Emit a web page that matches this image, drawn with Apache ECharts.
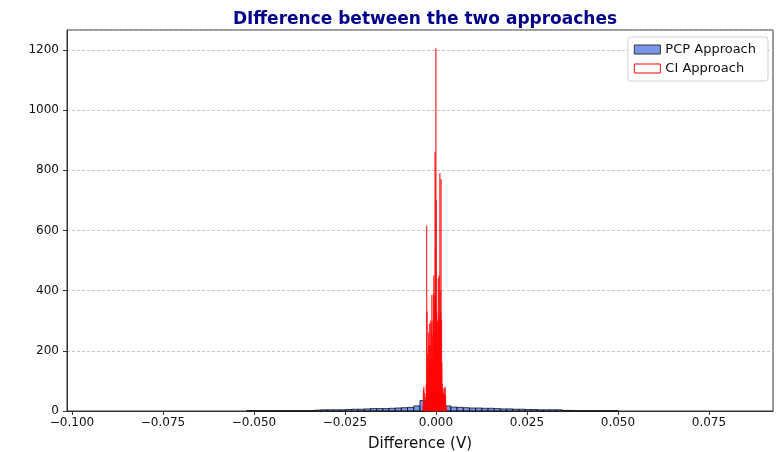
<!DOCTYPE html>
<html>
<head>
    <meta charset="utf-8">
    <title>Difference between the two approaches</title>
    <script src="https://cdn.jsdelivr.net/npm/echarts@6/dist/echarts.min.js"></script>
</head>
<body style="margin:0">
<div id="main" style="width: 782px;height:452px;"></div>
<script type="text/javascript">
    // PCP approach histogram: 60 bins starting at -0.052, width 0.0017
    var pcpStart = -0.052;
    var pcpBinWidth = 0.0017;
    var pcpCounts = [
        1, 1, 1, 1, 1, 1, 1, 1, 1, 1,
        1, 3, 4, 4, 4, 4, 5, 6, 6, 7,
        8, 8, 8, 9, 10, 11, 12, 17, 35, 55,
        60, 55, 17, 13, 12, 11, 10, 10, 9, 9,
        8, 7, 7, 6, 6, 5, 5, 4, 4, 4,
        4, 2, 2, 1, 1, 1, 1, 1, 1, 1
    ];

    // CI approach histogram: 60 narrow bins starting at -0.0036, width 0.00011
    var ciStart = -0.0036;
    var ciBinWidth = 0.00011;
    var ciCounts = [
        15, 70, 80, 60, 20, 10, 25, 45, 90, 615,
        330, 120, 190, 175, 260, 215, 290, 140, 220, 300,
        160, 290, 385, 250, 180, 300, 390, 450, 260, 380,
        860, 540, 1205, 700, 330, 290, 300, 220, 440, 310,
        450, 300, 790, 400, 330, 770, 300, 160, 90, 60,
        75, 60, 30, 45, 75, 80, 50, 20, 10, 5
    ];

    var xTicks = [-0.1, -0.075, -0.05, -0.025, 0, 0.025, 0.05, 0.075];

    function toBins(start, width, counts) {
        return counts.map(function (c, i) {
            return [start + i * width, start + (i + 1) * width, c];
        });
    }

    function barRenderer(style) {
        return function (params, api) {
            var p0 = api.coord([api.value(0), api.value(2)]);
            var p1 = api.coord([api.value(1), 0]);
            return {
                type: 'rect',
                shape: {x: p0[0], y: p0[1], width: p1[0] - p0[0], height: p1[1] - p0[1]},
                style: style
            };
        };
    }

    var pcpStyle = {fill: 'rgba(65,105,225,0.7)', stroke: 'rgba(0,0,0,0.7)', lineWidth: 1};
    var ciStyle = {fill: 'rgba(255,0,0,0.2)', stroke: '#ff0000', lineWidth: 0.6};

    var myChart = echarts.init(document.getElementById('main'));
    myChart.setOption({
        animation: false,
        textStyle: {fontFamily: 'DejaVu Sans'},
        title: {
            text: 'DIfference between the two approaches',
            left: 420,
            textAlign: 'center',
            top: 6,
            textStyle: {fontFamily: 'DejaVu Sans', fontSize: 17, fontWeight: 'bold', color: '#00008b'}
        },
        legend: {
            orient: 'vertical',
            right: 14,
            top: 37,
            padding: [6, 12, 6, 6],
            itemGap: 6,
            itemWidth: 26,
            itemHeight: 9,
            backgroundColor: '#fff',
            borderColor: '#d0d0d0',
            borderWidth: 1,
            borderRadius: 3,
            textStyle: {fontFamily: 'DejaVu Sans', fontSize: 13, color: '#111'},
            data: [
                {name: 'PCP Approach', icon: 'rect', itemStyle: {color: 'rgba(65,105,225,0.7)', borderColor: '#333', borderWidth: 1}},
                {name: 'CI Approach', icon: 'rect', itemStyle: {color: '#fff', borderColor: '#ff0000', borderWidth: 1}}
            ]
        },
        grid: {
            left: 67, top: 30, width: 706, height: 381,
            outerBoundsMode: 'none',
            containLabel: false,
            show: true, borderColor: '#333', borderWidth: 1, backgroundColor: 'transparent'
        },
        xAxis: {
            type: 'value',
            min: -0.10137,
            max: 0.0926,
            name: 'Difference (V)',
            nameLocation: 'middle',
            nameGap: 26,
            nameTextStyle: {fontFamily: 'DejaVu Sans', fontSize: 15, color: '#111'},
            axisLine: {show: true, onZero: false, lineStyle: {color: '#333'}},
            axisTick: {show: true, length: 4, customValues: xTicks, lineStyle: {color: '#333'}},
            axisLabel: {
                customValues: xTicks,
                margin: 6,
                fontSize: 12,
                color: '#111',
                formatter: function (v) {
                    var r = Math.round(v * 1000) / 1000;
                    return (r < 0 ? '\u2212' : '') + Math.abs(r).toFixed(3);
                }
            },
            splitLine: {show: false}
        },
        yAxis: {
            type: 'value',
            min: 0,
            max: 1266,
            interval: 200,
            axisLine: {show: true, onZero: false, lineStyle: {color: '#333'}},
            axisTick: {show: true, length: 4, lineStyle: {color: '#333'}},
            axisLabel: {
                fontSize: 12, color: '#111', margin: 8, showMaxLabel: false,
                formatter: function (v) { return String(v); }
            },
            splitLine: {show: true, lineStyle: {color: '#b8b8b8', type: [3, 2], width: 0.8}}
        },
        series: [
            {
                name: 'PCP Approach',
                type: 'custom',
                renderItem: barRenderer(pcpStyle),
                encode: {x: [0, 1], y: 2},
                itemStyle: {color: 'rgba(65,105,225,0.7)'},
                data: toBins(pcpStart, pcpBinWidth, pcpCounts),
                z: 2
            },
            {
                name: 'CI Approach',
                type: 'custom',
                renderItem: barRenderer(ciStyle),
                encode: {x: [0, 1], y: 2},
                itemStyle: {color: '#ff0000'},
                data: toBins(ciStart, ciBinWidth, ciCounts),
                z: 3
            }
        ]
    });
</script>
</body>
</html>
